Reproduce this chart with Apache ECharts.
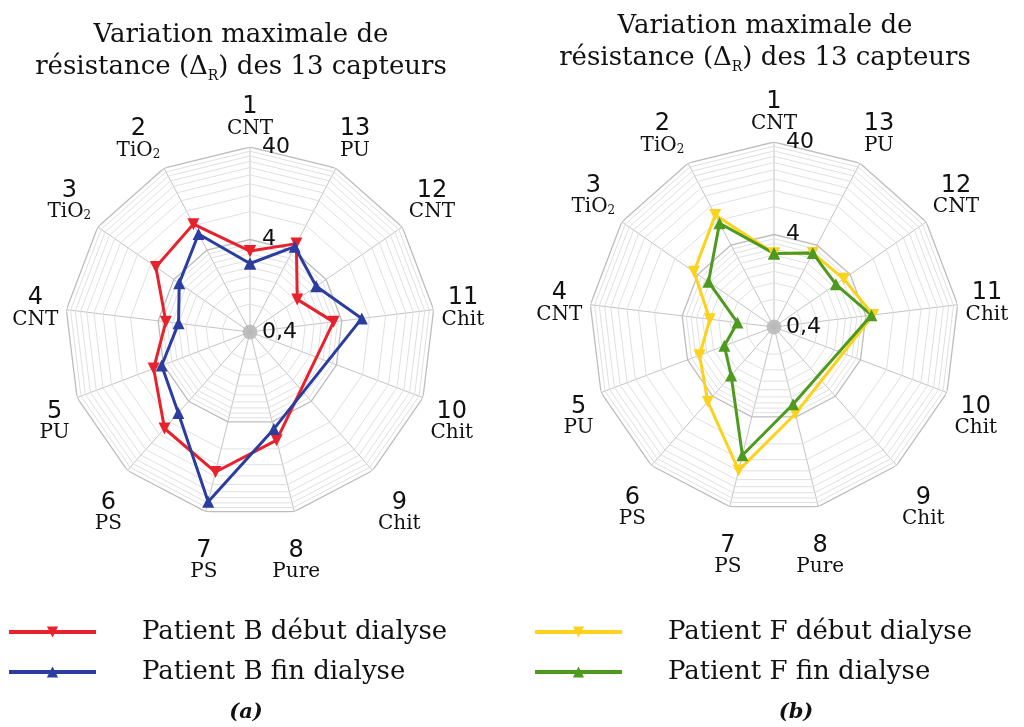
<!DOCTYPE html>
<html>
<head>
<meta charset="utf-8">
<script src="https://cdn.jsdelivr.net/npm/echarts@6/dist/echarts.min.js"></script>
<style>html,body{margin:0;padding:0;background:#fff}#c{width:1024px;height:727px}</style>
</head>
<body>
<div id="c"></div>
<script>
// ---- data ----
const sensorIds = ['1','2','3','4','5','6','7','8','9','10','11','12','13'];
const sensorMaterials = ['CNT','TiO2','TiO2','CNT','PU','PS','PS','Pure','Chit','Chit','Chit','CNT','PU'];
const tickValues = [0.4, 4, 40];
const tickLabels = ['0,4', '4', '40'];
const minorRings = [0.8, 1.2, 1.6, 2, 2.4, 2.8, 3.2, 3.6, 8, 12, 16, 20, 24, 28, 32, 36];
const majorRings = [4, 40];
const patientBDebut = [3.0, 8.3, 6.9, 3.3, 5.2, 9.9, 14.5, 6.4, null, null, 3.25, 1.67, 4.8];
const patientBFin   = [2.2, 6.3, 3.4, 2.4, 4.2, 5.9, 31, 4.8, null, null, 6.6, 2.96, 4.4];
const patientFDebut = [2.5, 9.3, 4.5, 2.0, 2.9, 4.8, 15.8, 3.7, null, null, 4.8, 3.3, 3.2];
const patientFFin   = [2.5, 7.4, 2.9, 1.0, 1.5, 2.0, 10.7, 2.9, null, null, 4.6, 2.6, 3.2];

const BASE = 0.4;
const tr = v => (v == null ? '-' : Math.log10(v / BASE));
const n = sensorIds.length;

function closedData(vals) {
  const d = vals.map((v, i) => [tr(v), i]);
  d.push([tr(vals[0]), n]);
  return d;
}
function ringData(v) {
  const d = [];
  for (let i = 0; i <= n; i++) d.push([tr(v), i]);
  return d;
}

const serifFont = 'DejaVu Serif';
const sansFont = 'DejaVu Sans';

function polarCfg(cx, cy) {
  return { center: [cx, cy], radius: 185 };
}
// extra spacing for labels below the chart (style only)
function labelGap(i) {
  if (i === 6 || i === 7) return 'gapL';
  if (i === 5 || i === 8) return 'gapM';
  return null;
}
function angleAxisCfg(idx) {
  return {
    polarIndex: idx, type: 'value', min: 0, max: n, interval: 1,
    startAngle: 90, clockwise: false,
    axisLine: { show: false }, axisTick: { show: false },
    splitLine: { show: true, lineStyle: { color: '#c4c4c4', width: 1 } },
    axisLabel: {
      show: true, margin: 8,
      formatter: function (v) {
        if (v >= n) return '';
        const m = sensorMaterials[v];
        const mat = m === 'TiO2' ? '{nm|TiO}{sub|2}' : '{nm|' + m + '}';
        const g = labelGap(v);
        return (g ? '{' + g + '| }\n' : '') + '{num|' + sensorIds[v] + '}\n' + mat;
      },
      rich: {
        gapL: { fontSize: 4, lineHeight: 20 },
        gapM: { fontSize: 4, lineHeight: 15 },
        num: { fontFamily: sansFont, fontSize: 24, color: '#111', lineHeight: 22, align: 'center' },
        nm: { fontFamily: serifFont, fontSize: 20, color: '#111', lineHeight: 21, align: 'center' },
        sub: { fontFamily: serifFont, fontSize: 12, color: '#111', verticalAlign: 'bottom', lineHeight: 12, align: 'center' }
      }
    }
  };
}
function radiusAxisCfg(idx) {
  return {
    polarIndex: idx, type: 'value', min: 0, max: 2, interval: 1,
    axisLine: { show: false }, axisTick: { show: false }, splitLine: { show: false },
    axisLabel: {
      show: true, margin: -12, align: 'left', verticalAlign: 'middle',
      fontFamily: sansFont, fontSize: 22, color: '#111',
      formatter: function (v) {
        return tickLabels[Math.round(v)];
      }
    },
    z: 10
  };
}

const series = [];
[0, 1].forEach(p => {
  minorRings.forEach(rv => series.push({
    type: 'line', coordinateSystem: 'polar', polarIndex: p, data: ringData(rv),
    symbol: 'none', silent: true, animation: false, z: 1,
    lineStyle: { color: '#e0e0e0', width: 1 }
  }));
  majorRings.forEach(rv => series.push({
    type: 'line', coordinateSystem: 'polar', polarIndex: p, data: ringData(rv),
    symbol: 'none', silent: true, animation: false, z: 1,
    lineStyle: { color: '#bdbdbd', width: 1.3 }
  }));
  series.push({
    type: 'scatter', coordinateSystem: 'polar', polarIndex: p, data: [[tr(tickValues[0]), 0]],
    symbol: 'circle', symbolSize: 15, silent: true, animation: false, z: 2,
    itemStyle: { color: '#b4b4b4' }
  });
});

function dataSeries(name, p, vals, color, down) {
  return {
    name: name, type: 'line', coordinateSystem: 'polar', polarIndex: p,
    data: closedData(vals), connectNulls: true, animation: false, z: 5,
    symbol: 'triangle', symbolSize: 12, symbolRotate: down ? 180 : 0,
    showSymbol: true,
    lineStyle: { color: color, width: 3 },
    itemStyle: { color: color }
  };
}
series.push(dataSeries('Patient B début dialyse', 0, patientBDebut, '#e8222c', true));
series.push(dataSeries('Patient B fin dialyse', 0, patientBFin, '#2b3d9e', false));
series.push(dataSeries('Patient F début dialyse', 1, patientFDebut, '#fcd21c', true));
series.push(dataSeries('Patient F fin dialyse', 1, patientFFin, '#4e9a1e', false));

const titleStyle = {
  fontFamily: serifFont, fontSize: 26, fontWeight: 'normal', color: '#111', lineHeight: 32,
  rich: { sub: { fontFamily: serifFont, fontSize: 14, verticalAlign: 'bottom', lineHeight: 26, color: '#111' } }
};
const titleText = 'Variation maximale de\nrésistance (Δ{sub|R}) des 13 capteurs';

function legendCfg(left, names) {
  return {
    orient: 'vertical', left: left, top: 619, padding: 0, itemWidth: 87, itemHeight: 14, itemGap: 14,
    data: names, selectedMode: false,
    lineStyle: { width: 4 },
    textStyle: { fontFamily: serifFont, fontSize: 26, color: '#111', padding: [0, 0, 0, 41] }
  };
}

const option = {
  backgroundColor: '#fff',
  animation: false,
  title: [
    { text: titleText, left: 241, top: 19, textAlign: 'center', padding: 0, textStyle: titleStyle },
    { text: titleText, left: 765, top: 10, textAlign: 'center', padding: 0, textStyle: titleStyle },
    { text: '(a)', left: 246, top: 702, textAlign: 'center', padding: 0,
      textStyle: { fontFamily: serifFont, fontSize: 21, fontStyle: 'italic', fontWeight: 'bold', color: '#111' } },
    { text: '(b)', left: 796, top: 702, textAlign: 'center', padding: 0,
      textStyle: { fontFamily: serifFont, fontSize: 21, fontStyle: 'italic', fontWeight: 'bold', color: '#111' } }
  ],
  legend: [
    legendCfg(7, ['Patient B début dialyse', 'Patient B fin dialyse']),
    legendCfg(533, ['Patient F début dialyse', 'Patient F fin dialyse'])
  ],
  polar: [polarCfg(250, 332), polarCfg(774, 327)],
  angleAxis: [angleAxisCfg(0), angleAxisCfg(1)],
  radiusAxis: [radiusAxisCfg(0), radiusAxisCfg(1)],
  series: series
};

const chart = echarts.init(document.getElementById('c'), null, { renderer: 'canvas' });
chart.setOption(option);
</script>
</body>
</html>
